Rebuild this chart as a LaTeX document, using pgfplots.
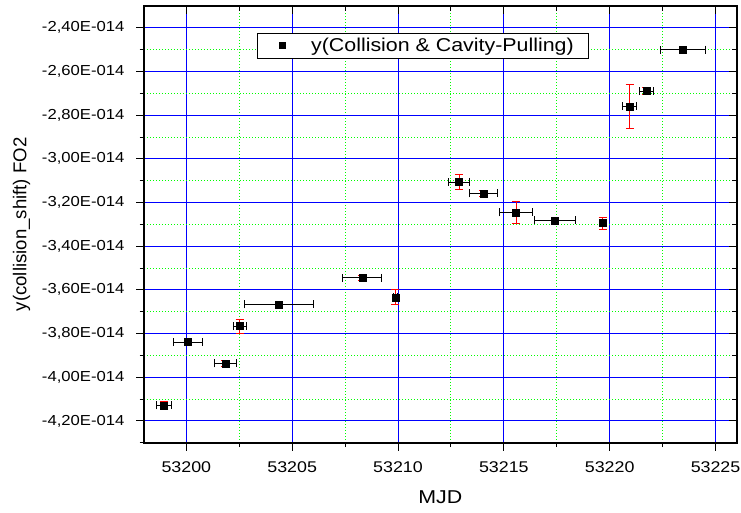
\documentclass[border=0pt]{standalone}
\usepackage{fontspec}
\setmainfont{Liberation Sans}[FakeStretch=1.15]
\newfontfamily\plainsans{Liberation Sans}
\usepackage{pgfplots}
\usepackage{pgfplotstable}
\pgfplotsset{compat=1.18}

\pgfplotstableread{
x y ex ey
53198.94 -4.129e-14 0.37 0.018e-14
53200.08 -3.839e-14 0.68 0.015e-14
53201.84 -3.937e-14 0.52 0.015e-14
53202.52 -3.766e-14 0.30 0.032e-14
53204.38 -3.667e-14 1.64 0.010e-14
53208.31 -3.545e-14 0.92 0.010e-14
53209.88 -3.634e-14 0.10 0.034e-14
53212.88 -3.106e-14 0.48 0.035e-14
53214.03 -3.158e-14 0.65 0.015e-14
53215.57 -3.245e-14 0.80 0.050e-14
53217.42 -3.282e-14 0.96 0.010e-14
53219.66 -3.294e-14 0.08 0.027e-14
53220.94 -2.759e-14 0.33 0.100e-14
53221.73 -2.690e-14 0.34 0.015e-14
53223.46 -2.500e-14 1.08 0.008e-14
}\data

\pgfplotsset{
  common/.style={
    scale only axis, width=592.7pt, height=436.7pt,
    xmin=53198, xmax=53226, ymin=-4.3e-14, ymax=-2.3e-14,
    xtick={53200,53205,53210,53215,53220,53225},
    ytick={-4.2e-14,-4.0e-14,-3.8e-14,-3.6e-14,-3.4e-14,-3.2e-14,-3.0e-14,-2.8e-14,-2.6e-14,-2.4e-14},
    minor xtick={53202.5,53207.5,53212.5,53217.5,53222.5},
    minor ytick={-4.3e-14,-4.1e-14,-3.9e-14,-3.7e-14,-3.5e-14,-3.3e-14,-3.1e-14,-2.9e-14,-2.7e-14,-2.5e-14},
    scaled x ticks=false, scaled y ticks=false,
    major tick length=8pt, minor tick length=4.5pt,
    every tick/.style={black, line width=1pt},
    axis line style={black, line width=1.6pt},
  },
}

\begin{document}
\begin{tikzpicture}
\begin{axis}[common,
  xtick pos=left, ytick pos=left, tick align=outside,
  grid=both,
  major grid style={solid, blue, line width=1pt},
  minor grid style={green, line width=1pt, dash pattern=on 1pt off 2pt},
  xticklabels={53200,53205,53210,53215,53220,53225},
  yticklabels={{-4,20E-014},{-4,00E-014},{-3,80E-014},{-3,60E-014},{-3,40E-014},{-3,20E-014},{-3,00E-014},{-2,80E-014},{-2,60E-014},{-2,40E-014}},
  xticklabel style={font=\fontsize{15.5}{17}\selectfont, yshift=-7pt},
  yticklabel style={font=\fontsize{14.5}{16}\selectfont, xshift=-8pt},
  xlabel={MJD},
  ylabel={\plainsans y(collision\_shift) FO2},
  every axis x label/.style={at={(rel axis cs:0.5,0)}, yshift=-54pt, anchor=center, font=\fontsize{18.6}{20}\selectfont},
  every axis y label/.style={at={(rel axis cs:0,0.5)}, xshift=-122.5pt, anchor=center, rotate=90, font=\fontsize{18.6}{20}\selectfont},
  legend style={at={(rel axis cs:0.190,0.939)}, anchor=north west, draw=black, line width=1pt, fill=white,
    inner xsep=4pt, inner ysep=3pt, font=\fontsize{18.6}{20}\selectfont},
  legend image code/.code={\path[draw=none, fill=none] (0pt,0pt) -- (48pt,0pt);
    \begin{scope}[shift={(21pt,0pt)}]\pgfsetplotmarksize{3pt}\pgfsetlinewidth{0.4pt}\pgfuseplotmark{square*}\end{scope}},
]
\addplot[black, only marks, mark=none, forget plot,
  error bars/.cd, x dir=both, x explicit,
  error bar style={black, line width=0.8pt},
  error mark options={rotate=90, black, mark size=4pt, line width=0.8pt}]
  table[x=x, y=y, x error=ex] {\data};
\addplot[red, only marks, mark=none, forget plot,
  error bars/.cd, y dir=both, y explicit,
  error bar style={red, line width=0.8pt},
  error mark options={rotate=90, red, mark size=4pt, line width=0.8pt}]
  table[x=x, y=y, y error=ey] {\data};
\addplot[black, only marks, mark=square*, mark size=3.5pt, line width=0.4pt]
  table[x=x, y=y] {\data};
\addlegendentry{y(Collision \& Cavity-Pulling)\kern9pt}
\coordinate (sw) at (rel axis cs:0,0);
\end{axis}
\begin{axis}[common,
  axis x line*=top, axis y line*=right, tick align=inside,
  xticklabels={}, yticklabels={},
  axis line style={-},
]
\end{axis}
\pgfresetboundingbox
\path[use as bounding box] (sw) ++(-144pt,-69.3pt) rectangle ++(741pt,512pt);
\end{tikzpicture}
\end{document}
